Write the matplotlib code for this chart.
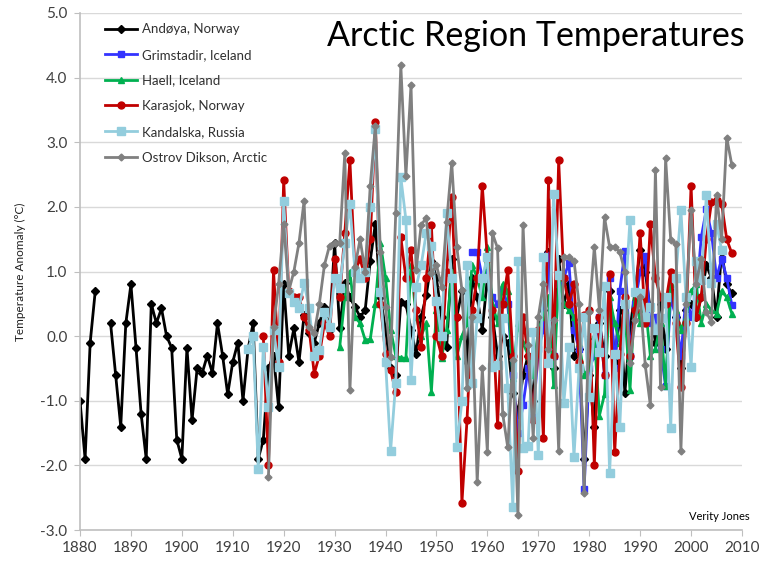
import numpy as np
import matplotlib
matplotlib.use("Agg")
import matplotlib.pyplot as plt

nan = np.nan

andoya_start = 1880
andoya = [-1.0, -1.9, -0.1, 0.7, nan, nan, 0.2, -0.6, -1.4, 0.2,
          0.8, -0.18, -1.2, -1.9, 0.5, 0.2, 0.43, 0.0, -0.18, -1.6,
          -1.9, -0.18, -1.3, -0.5, -0.57, -0.3, -0.57, 0.2, -0.3, -0.9,
          -0.4, -0.1, -1.0, -0.2, 0.2, -1.9, -1.6, -0.5, -0.3, -1.1,
          0.8, -0.3, 0.12, -0.4, 0.32, 0.05, -0.1, 0.2, 0.45, 0.1,
          1.44, 0.12, 0.82, 0.6, 0.45, 0.3, 0.4, 1.17, 1.74, 0.6,
          0.1, -0.5, -0.6, 0.53, 0.5, 0.1, -0.27, 0.3, 0.63, 1.17,
          0.9, 0.3, -0.17, 1.2, 0.3, 0.7, -0.4, 0.9, 0.6, 0.1,
          0.9, 0.3, -0.3, 0.0, -0.1, -0.88, -1.2, -0.6, -0.3, -1.0,
          0.1, 0.4, 1.3, -0.5, 1.2, 0.5, 0.8, -0.3, -0.2, -1.9,
          -0.6, -1.4, 0.2, -0.3, 0.7, -0.4, 0.4, -0.88, 0.1, 0.7,
          1.33, 1.0, 0.4, -0.1, 0.5, -0.2, 0.7, 0.3, -0.5, 0.4,
          0.5, 0.3, 0.6, 1.1, 0.9, 0.3, 1.3, 0.8, 0.66]

grimstadir_start = 1957
grimstadir = [1.3, 1.3, 0.9, 1.0, 0.6, 0.5, 0.7, 0.5, -0.6, -1.5,
              -1.07, -0.5, -1.25, -0.2, 0.1, 1.25, -0.3, 0.8, 0.9, 1.13,
              0.1, -0.2, -2.37, -0.5, -0.3, 0.3, -0.6, 0.9, -0.5, 0.7,
              1.31, -0.3, 0.5, 1.0, 1.24, 0.2, 0.3, -0.2, -0.77, 0.6,
              0.3, -0.3, 0.6, 0.3, 0.6, 1.53, 1.96, 1.6, 0.9, 1.2,
              0.9, 0.48]

haell_start = 1931
haell = [-0.17, 0.6, 1.0, 0.3, 0.2, -0.06, -0.05, 0.5, 1.44, 0.9,
         0.1, -0.3, -0.34, -0.34, 1.1, 0.3, 0.0, 0.2, -0.86, 0.4,
         -0.34, 0.1, 1.0, -0.3, 0.0, 0.2, 1.1, 0.9, 0.6, 1.38,
         0.5, 0.2, 0.8, 0.7, -0.65, 0.2, -0.1, -0.3, -0.6, 0.1,
         0.3, 0.6, -0.76, 0.9, 0.5, 0.4, 0.3, -0.1, -0.6, -0.5,
         0.0, -1.23, -0.9, 0.6, 0.2, -0.1, 0.4, -0.84, 0.7, 0.2,
         0.5, -0.3, -0.2, 0.2, -0.77, 0.8, 0.4, 0.1, 0.3, 0.7,
         0.8, 0.2, 0.5, 0.4, 0.35, 0.7, 0.6, 0.35]

karasjok_start = 1916
karasjok = [0.0, -2.0, 1.02, -0.4, 2.41, 0.7, 0.6, 0.6, 0.3, 0.1,
            -0.58, -0.3, 0.2, 0.0, 1.2, 0.6, 1.6, 2.72, 1.0, 1.2,
            0.9, 1.5, 3.32, 0.5, -0.27, -0.53, -0.86, 1.53, 0.9, 1.33,
            0.4, -0.17, 0.9, 1.72, 0.0, -0.3, 1.0, 2.15, 0.3, -2.58,
            -1.3, 0.4, 0.9, 2.33, 1.2, 0.4, -1.38, 0.5, 1.02, -0.3,
            -2.09, 0.3, -0.3, -1.3, 0.1, -1.58, 2.41, -0.3, 2.72, 0.9,
            0.5, 0.8, -0.4, 0.32, 0.4, -2.0, 0.3, -0.6, 0.96, -1.8,
            -0.28, 0.6, -0.3, 0.4, 1.6, 0.2, 1.73, 0.9, 0.6, 0.5,
            1.0, 0.2, -0.79, 0.2, 2.33, 0.3, 0.6, 1.5, 2.07, 2.1,
            2.05, 1.5, 1.28]

kandalska_start = 1913
kandalska = [-0.2, 0.0, -2.06, -0.17, -1.1, 0.1, -0.48, 2.09, 0.66, 0.53,
             0.43, 0.82, 0.43, -0.3, -0.22, 0.37, 0.14, 0.9, 0.74, 1.44,
             2.04, 1.0, 0.9, 1.0, 2.0, 3.2, 0.68, -0.4, -1.77, -0.72,
             2.46, 1.8, -0.68, 0.76, 1.1, 1.6, 1.4, 0.55, 0.0, 1.9,
             0.9, -1.72, -1.0, 1.1, -0.73, 0.28, 0.9, 1.23, -0.48, -0.45,
             0.28, -0.8, -2.65, 1.17, -1.73, -1.7, 0.06, -1.84, 1.23, -0.42,
             2.2, 0.95, -1.04, -0.17, -1.87, -0.5, 0.3, -0.94, 0.12, -0.25,
             0.77, -2.12, -0.27, -1.41, 0.5, 1.8, 0.68, 0.66, 0.3, 0.45,
             0.1, 0.28, 0.6, -1.42, 0.9, 1.95, 0.6, -0.48, 1.17, 0.87,
             2.18, 0.82, 1.74, 1.33]

dikson_start = 1917
dikson = [-2.18, 0.14, 0.8, 1.73, 0.7, 1.0, 1.44, 2.09, 0.14, 0.05,
          0.5, 1.1, 1.4, 1.44, 1.44, 2.83, -0.84, 1.07, 1.5, 1.0,
          2.33, 3.25, 1.3, 0.45, -0.33, 1.9, 4.19, 2.48, 3.89, 1.02,
          1.72, 1.83, 0.97, 1.1, 0.76, 1.77, 2.68, 1.38, 0.71, -0.8,
          0.3, -2.26, -0.5, -1.79, 1.59, 1.36, -1.2, -1.72, -0.37, -2.77,
          1.72, -0.14, -1.58, 0.3, 0.8, -0.2, 0.25, -1.77, 1.23, 1.22,
          1.17, 0.5, -2.43, 0.37, 1.38, 0.4, 1.84, 1.38, 1.38, 1.3,
          1.0, -0.42, 0.25, 0.6, -0.45, -1.07, 2.57, -0.79, 2.75, 1.49,
          1.43, -1.77, 0.5, 1.95, 0.8, 1.2, 0.37, 0.22, 2.18, 1.5,
          3.07, 2.65]

series = [
    ("Andøya, Norway", andoya_start, andoya, "#000000", "D", 4.5, 2.0),
    ("Grimstadir, Iceland", grimstadir_start, grimstadir, "#3333FF", "s", 5, 2.0),
    ("Haell, Iceland", haell_start, haell, "#00B050", "^", 5, 2.0),
    ("Karasjok, Norway", karasjok_start, karasjok, "#C00000", "o", 5, 2.0),
    ("Kandalska, Russia", kandalska_start, kandalska, "#93CDDD", "s", 6, 2.0),
    ("Ostrov Dikson, Arctic", dikson_start, dikson, "#808080", "D", 3.5, 2.0),
]

plt.rcParams['font.family'] = ['Lato', 'DejaVu Sans']
fig = plt.figure(figsize=(7.59, 5.62), dpi=100)
ax = fig.add_axes([80/759, 1-530/562, 662/759, 517/562])

for name, start, vals, color, mk, ms, lw in series:
    yrs = np.arange(start, start + len(vals))
    ax.plot(yrs, vals, color=color, marker=mk, markersize=ms, linewidth=lw,
            label=name, markeredgecolor=color, markerfacecolor=color)

ax.set_xlim(1880, 2010)
ax.set_ylim(-3.0, 5.0)
ax.set_xticks(np.arange(1880, 2011, 10))
ax.set_yticks(np.arange(-3, 5.01, 1.0))
ax.set_yticklabels([f"{v:.1f}" for v in np.arange(-3, 5.01, 1.0)])
ax.yaxis.grid(True, color="#D9D9D9", linewidth=1.0)
ax.set_axisbelow(True)
for s in ["top", "right"]:
    ax.spines[s].set_visible(False)
for s in ["left", "bottom"]:
    ax.spines[s].set_color("#BFBFBF")
    ax.spines[s].set_linewidth(1.2)
ax.tick_params(axis="both", colors="#BFBFBF", labelcolor="#404040", labelsize=11, length=4)
ax.tick_params(axis="y", pad=5)
ax.tick_params(axis="x", pad=4)

ax.set_ylabel("Temperature Anomaly (°C)", fontsize=8.5, color="#202020", labelpad=10)

leg = ax.legend(loc="upper left", bbox_to_anchor=(0.02, 1.003), frameon=False,
                fontsize=9.5, labelspacing=1.03, handlelength=2.4, handletextpad=0.4)
for t in leg.get_texts():
    t.set_color("#303030")

fig.text(745/759, 1-36/562, "Arctic Region Temperatures", fontsize=24.5, ha="right", va="center", color="#000000")
fig.text(750/759, 1-516/562, "Verity Jones", fontsize=8, ha="right", va="center", color="#000000")

fig.savefig("out.png", dpi=100)
